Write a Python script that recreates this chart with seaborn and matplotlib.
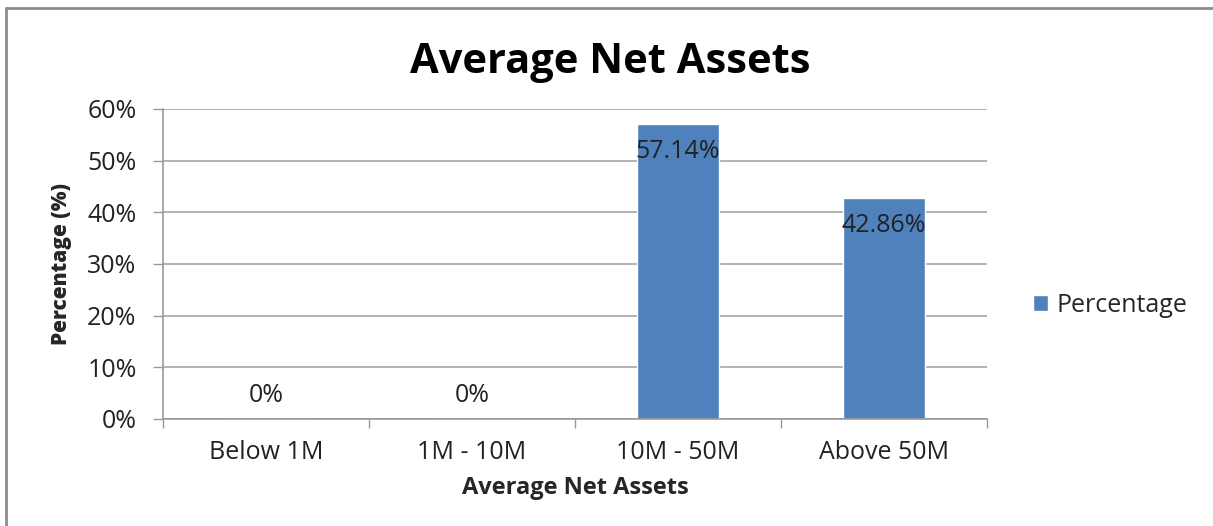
import matplotlib
matplotlib.use("Agg")
import matplotlib.pyplot as plt
from matplotlib.lines import Line2D
import seaborn as sns
import pandas as pd

categories = ["Below 1M", "1M - 10M", "10M - 50M", "Above 50M"]
percentages = [0.0, 0.0, 57.14, 42.86]
value_labels = ["0%", "0%", "57.14%", "42.86%"]
series_name = "Percentage"

sns.set_theme(style="white")
plt.rcParams["font.family"] = ["Open Sans", "DejaVu Sans"]

W, H = 1213, 526
fig = plt.figure(figsize=(W / 100, H / 100), dpi=100)
ax = fig.add_axes([163 / W, 1 - 419 / H, (987 - 163) / W, (419 - 109) / H])

df = pd.DataFrame({"category": categories, "value": percentages})
sns.barplot(data=df, x="category", y="value", color="#4F81BD", width=0.4,
            saturation=1, label=series_name, ax=ax)

ax.set_ylim(0, 60)
ax.set_xlim(-0.5, len(categories) - 0.5)
ax.set_yticks(range(0, 61, 10))
ax.set_yticklabels([f"{t}%" for t in range(0, 61, 10)], fontsize=18, color="#222222")
ax.set_xticks(range(len(categories)))
ax.set_xticklabels(categories, fontsize=18, color="#222222")
ax.set_xticks([i - 0.5 for i in range(len(categories) + 1)], minor=True)
ax.tick_params(axis="x", which="major", length=0, pad=15)
ax.tick_params(axis="x", which="minor", length=6.5, width=1, color="#999999", direction="out", bottom=True)
ax.tick_params(axis="y", length=7, width=1, color="#999999", direction="out", left=True, pad=12)

ax.yaxis.grid(True, color="#A6A6A6", linewidth=1.2)
ax.set_axisbelow(True)
for s in ["top", "right"]:
    ax.spines[s].set_visible(False)
for s in ["left", "bottom"]:
    ax.spines[s].set_color("#999999")
    ax.spines[s].set_linewidth(1.2)

for i, (v, lab) in enumerate(zip(percentages, value_labels)):
    dy = -20 if v > 0 else 17
    ax.annotate(lab, (i, v), xytext=(0, dy), textcoords="offset points",
                ha="center", va="center", fontsize=18, color="#222222")

ax.set_xlabel("Average Net Assets", fontsize=17, fontweight="bold")
ax.xaxis.set_label_coords(0.5, (419 - 488) / 310)
ax.xaxis.label.set_va("center")
ax.set_ylabel("Percentage (%)", fontsize=15, fontweight="heavy")
ax.yaxis.set_label_coords((61 - 163) / 824, 0.5)
ax.yaxis.label.set_va("center")

fig.text(0.5 * (405 + 815) / W, 1 - 73 / H, "Average Net Assets", ha="center", va="baseline",
         fontsize=30, fontweight="bold", color="#000000")

ax.legend(loc="center left", bbox_to_anchor=(1033 / W, 1 - 305 / H), bbox_transform=fig.transFigure,
          frameon=False, fontsize=18, borderpad=0, borderaxespad=0,
          handlelength=0.6, handleheight=0.6, handletextpad=0.35)

# chart frame along the top and left edges
fig.add_artist(Line2D([6 / W, 6 / W], [0, 1 - 8 / H], color="#8C8C8C", linewidth=2))
fig.add_artist(Line2D([6 / W, 1], [1 - 8 / H, 1 - 8 / H], color="#8C8C8C", linewidth=2))

fig.savefig("out.png", dpi=100)
